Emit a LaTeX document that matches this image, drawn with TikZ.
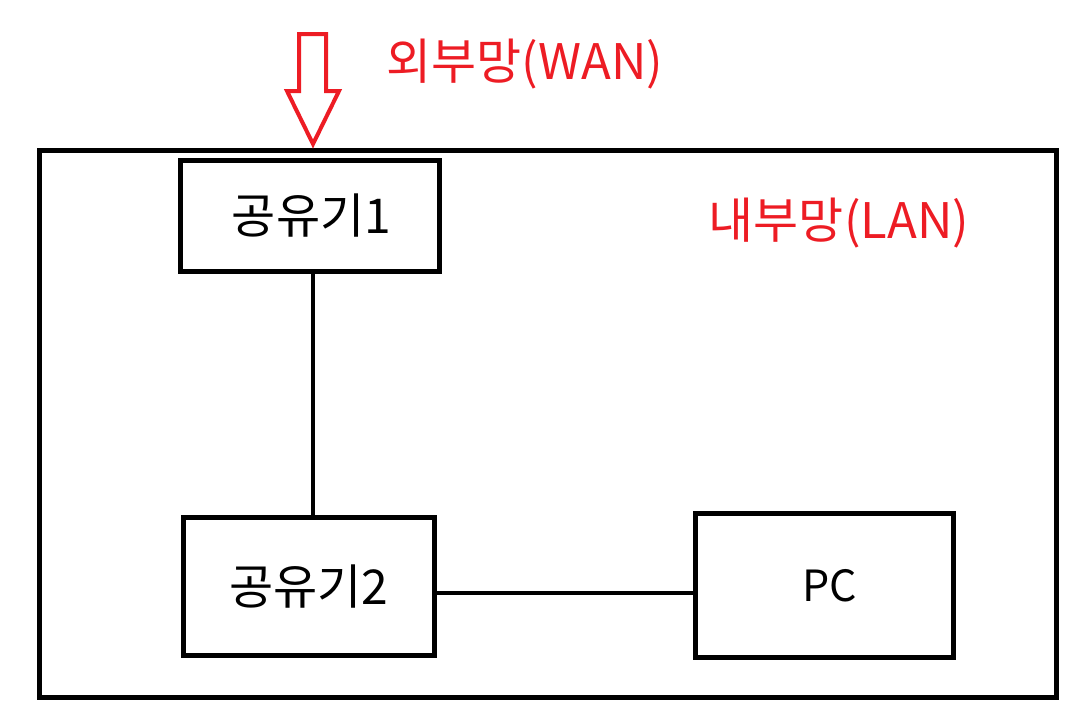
\documentclass[tikz,border=0pt]{standalone}
\usepackage{fontspec}
\setmainfont{Noto Sans CJK KR}
\definecolor{pred}{RGB}{237,28,36}
\begin{document}
\begin{tikzpicture}[x=1pt,y=-1pt,
  box/.style={draw=black, line width=5pt, inner sep=0pt, font=\fontsize{48}{56}\selectfont},
  conn/.style={draw=black, line width=4pt},
  lbl/.style={text=pred, inner sep=0pt, font=\fontsize{49}{56}\selectfont}]
\useasboundingbox (0,0) rectangle (1082,724);
\node[box, minimum width=1017pt, minimum height=547pt] (lan) at (548,424) {};
\node[box, minimum width=259pt, minimum height=111pt] (r1) at (310,215.5) {\hspace*{3pt}공유기1};
\node[box, minimum width=251pt, minimum height=138pt] (r2) at (309,586.5) {공유기2};
\node[box, minimum width=258pt, minimum height=144pt, font=\fontsize{43}{50}\selectfont] (pc) at (824.5,585.5) {\hspace*{10pt}PC};
\coordinate (l1) at (313,400);
\coordinate (l2) at (560,593);
\draw[conn] (r1.south -| l1) -- (r2.north -| l1);
\draw[conn] (r2.east |- l2) -- (pc.west |- l2);
\node[lbl] (wan) at (525,64) {외부망(WAN)};
\node[lbl] (lanl) at (839,223) {내부망(LAN)};
\draw[pred, line width=4pt, miter limit=10] (299,34) -- (326,34) -- (326,91) -- (339,91) -- (313,144) -- (287,91) -- (299,91) -- cycle;
\end{tikzpicture}
\end{document}
